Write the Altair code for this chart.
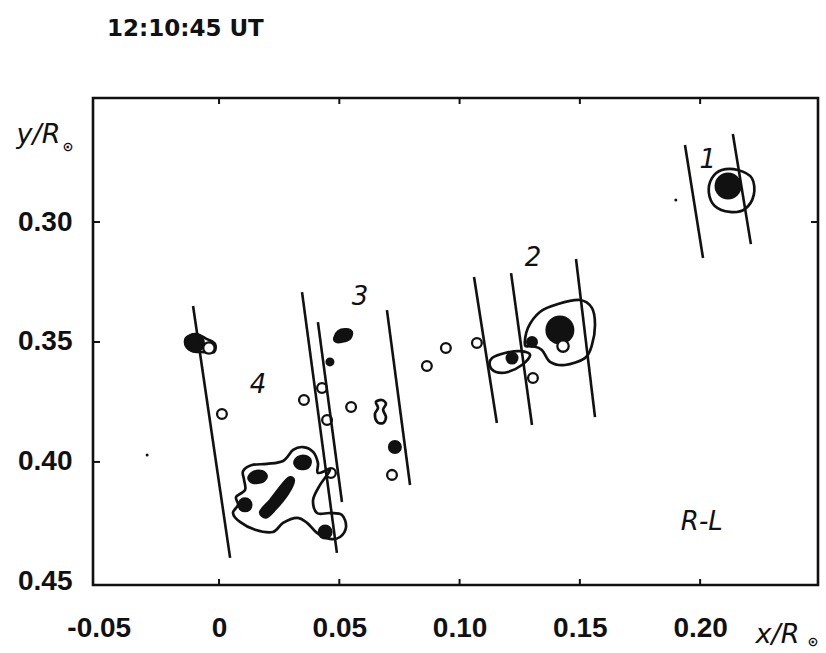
import altair as alt
import pandas as pd

# ---------------- data (in units of solar radius) ----------------
# slanted streak lines: start and end points
line_x1 = [0.1937, 0.2136, 0.1060, 0.1214, 0.1484, -0.0108, 0.0345, 0.0411, 0.0698]
line_y1 = [0.2679, 0.2633, 0.3229, 0.3213, 0.3154, 0.3350, 0.3292, 0.3417, 0.3367]
line_x2 = [0.2012, 0.2211, 0.1155, 0.1301, 0.1563, 0.0046, 0.0490, 0.0511, 0.0794]
line_y2 = [0.3150, 0.3092, 0.3838, 0.3846, 0.3813, 0.4400, 0.4379, 0.4167, 0.4096]

# contour outlines (closed)
c_g1_x = [0.2049, 0.2090, 0.2157, 0.2215, 0.2223, 0.2186, 0.2124, 0.2061, 0.2036]
c_g1_y = [0.2817, 0.2783, 0.2783, 0.2817, 0.2887, 0.2946, 0.2958, 0.2933, 0.2875]
c_g2_x = [0.1272, 0.1284, 0.1334, 0.1409, 0.1500, 0.1550, 0.1563, 0.1550, 0.1521, 0.1438, 0.1376, 0.1342, 0.1301]
c_g2_y = [0.3513, 0.3442, 0.3375, 0.3342, 0.3325, 0.3358, 0.3429, 0.3513, 0.3567, 0.3596, 0.3583, 0.3533, 0.3517]
c_g2b_x = [0.1126, 0.1135, 0.1189, 0.1251, 0.1293, 0.1259, 0.1201, 0.1151]
c_g2b_y = [0.3600, 0.3567, 0.3546, 0.3538, 0.3554, 0.3596, 0.3625, 0.3625]
c_left_x = [-0.0137, -0.0096, -0.0050, -0.0017, -0.0021, -0.0062, -0.0108, -0.0137]
c_left_y = [0.3483, 0.3467, 0.3488, 0.3508, 0.3542, 0.3542, 0.3538, 0.3517]
c_eight_x = [0.0652, 0.0677, 0.0694, 0.0682, 0.0694, 0.0682, 0.0657, 0.0648, 0.0661]
c_eight_y = [0.3750, 0.3742, 0.3758, 0.3783, 0.3813, 0.3838, 0.3833, 0.3800, 0.3775]
c_g4_x = [0.0349, 0.0391, 0.0411, 0.0411, 0.0461, 0.0420, 0.0391, 0.0407, 0.0461, 0.0511,
          0.0528, 0.0503, 0.0461, 0.0407, 0.0366, 0.0324, 0.0266, 0.0224, 0.0150, 0.0087,
          0.0058, 0.0079, 0.0071, 0.0108, 0.0104, 0.0100, 0.0137, 0.0199, 0.0266, 0.0308]
c_g4_y = [0.3938, 0.3958, 0.4004, 0.4046, 0.4033, 0.4096, 0.4158, 0.4213, 0.4213, 0.4221,
          0.4271, 0.4313, 0.4321, 0.4296, 0.4254, 0.4233, 0.4254, 0.4292, 0.4283, 0.4250,
          0.4213, 0.4179, 0.4146, 0.4117, 0.4075, 0.4038, 0.4013, 0.4008, 0.3996, 0.3950]

# filled (black) irregular sources
f_g3_x = [0.0478, 0.0495, 0.0528, 0.0553, 0.0544, 0.0511, 0.0486]
f_g3_y = [0.3483, 0.3454, 0.3446, 0.3458, 0.3488, 0.3500, 0.3500]
f_g4a_x = [0.0312, 0.0328, 0.0362, 0.0382, 0.0370, 0.0332]
f_g4a_y = [0.4004, 0.3979, 0.3975, 0.3996, 0.4025, 0.4029]
f_g4b_x = [0.0121, 0.0141, 0.0179, 0.0199, 0.0183, 0.0141]
f_g4b_y = [0.4067, 0.4042, 0.4038, 0.4058, 0.4083, 0.4088]
f_g4c_x = [0.0170, 0.0212, 0.0266, 0.0295, 0.0312, 0.0287, 0.0233, 0.0195]
f_g4c_y = [0.4208, 0.4158, 0.4088, 0.4063, 0.4079, 0.4133, 0.4200, 0.4233]

# compact filled sources: centre and size class
dot_x = [0.2116, 0.1417, -0.0100, 0.0731, 0.1301, 0.1218, 0.0441, 0.0108, 0.0461, -0.0299, 0.1899]
dot_y = [0.2850, 0.3450, 0.3504, 0.3938, 0.3500, 0.3567, 0.4292, 0.4179, 0.3583, 0.3971, 0.2908]
dot_cls = ["d27", "d29", "d20", "d14", "d12", "d13", "d15", "d15", "d9", "d3", "d3"]

# small hollow sources
ring_x = [0.0012, 0.0353, 0.0428, 0.0449, 0.0465, 0.0549, 0.0719, 0.0864, 0.0943, 0.1072, 0.1305]
ring_y = [0.3800, 0.3742, 0.3692, 0.3825, 0.4046, 0.3771, 0.4054, 0.3600, 0.3525, 0.3504, 0.3650]
# hollow sources drawn over black ones
wring_x = [0.1430, -0.0042]
wring_y = [0.3517, 0.3525]

# annotations
lab_text = ["1", "2", "3", "4", "R-L"]
lab_x = [0.2032, 0.1305, 0.0586, 0.0162, 0.2007]
lab_y = [0.2742, 0.3150, 0.3313, 0.3679, 0.4250]

x_ticks = [-0.05, 0.0, 0.05, 0.10, 0.15, 0.20]
y_ticks = [0.30, 0.35, 0.40, 0.45]
x_minor_frame = [0.0, 0.05, 0.10, 0.15, 0.20]
y_minor_frame = [0.30, 0.35, 0.40]

# ---------------- build tables ----------------
def poly_table(polys):
    rows = []
    for pid, (xs, ys) in polys.items():
        for i, (a, b) in enumerate(zip(xs, ys)):
            rows.append({"id": pid, "i": i, "x": a, "y": b})
    return pd.DataFrame(rows)

outlines = poly_table({
    "g1": (c_g1_x, c_g1_y), "g2": (c_g2_x, c_g2_y), "g2b": (c_g2b_x, c_g2b_y),
    "left": (c_left_x, c_left_y), "eight": (c_eight_x, c_eight_y), "g4": (c_g4_x, c_g4_y),
})
fills = poly_table({
    "g3": (f_g3_x, f_g3_y), "g4a": (f_g4a_x, f_g4a_y),
    "g4b": (f_g4b_x, f_g4b_y), "g4c": (f_g4c_x, f_g4c_y),
})
lines = pd.DataFrame({"x": line_x1, "y": line_y1, "x2": line_x2, "y2": line_y2})
dots = pd.DataFrame({"x": dot_x, "y": dot_y, "c": dot_cls})
rings = pd.DataFrame({"x": ring_x, "y": ring_y})
wrings = pd.DataFrame({"x": wring_x, "y": wring_y})
labs = pd.DataFrame({"t": lab_text, "x": lab_x, "y": lab_y})
xt = pd.DataFrame({"v": x_minor_frame})
yt = pd.DataFrame({"v": y_minor_frame})

W, H = 725, 487
INK = "#111111"
TICK_FONT = "Liberation Sans"

xscale = alt.Scale(domain=[-0.0524, 0.249], nice=False, zero=False)
yscale = alt.Scale(domain=[0.2483, 0.4513], nice=False, zero=False, reverse=True)

xaxis = alt.Axis(
    values=x_ticks, grid=False, domain=False, ticks=False,
    labelExpr="datum.value == 0 ? '0' : replace(format(datum.value, '.2f'), '\u2212', '-')",
    labelFont=TICK_FONT, labelFontSize=28, labelFontWeight="bold", labelColor=INK,
    labelPadding=29, labelFlush=False, labelOverlap=False,
    title="x/R", titleFont="DejaVu Sans", titleFontSize=27, titleFontStyle="italic",
    titleFontWeight="normal", titleColor=INK, titleAngle=0, titleX=684, titleY=49,
    titleAlign="center", titleBaseline="middle",
)
yaxis = alt.Axis(
    values=y_ticks, grid=False, domain=False, ticks=False, format=".2f",
    labelFont=TICK_FONT, labelFontSize=28, labelFontWeight="bold", labelColor=INK,
    labelPadding=21, labelFlush=False, labelOverlap=False,
    title="y/R", titleFont="DejaVu Sans", titleFontSize=27, titleFontStyle="italic",
    titleFontWeight="normal", titleColor=INK, titleAngle=0, titleX=-55, titleY=36,
    titleAlign="center", titleBaseline="middle",
)

X = alt.X("x:Q", scale=xscale, axis=xaxis)
Y = alt.Y("y:Q", scale=yscale, axis=yaxis)

outline_layer = alt.Chart(outlines).mark_line(
    interpolate="cardinal-closed", stroke=INK, strokeWidth=2.7
).encode(x=X, y=Y, detail="id:N", order="i:Q")

fill_layer = alt.Chart(fills).mark_line(
    interpolate="cardinal-closed", stroke=INK, fill=INK, strokeWidth=2
).encode(x=X, y=Y, detail="id:N", order="i:Q")

# one layer per size class of compact black sources
dot_sizes = {"d29": 841, "d27": 729, "d20": 400, "d15": 225, "d14": 196,
             "d13": 169, "d12": 144, "d9": 81, "d3": 9}
dot_layers = [
    alt.Chart(dots).transform_filter(alt.datum.c == cls).mark_point(
        filled=True, color=INK, opacity=1, shape="circle", size=sz
    ).encode(x=X, y=Y)
    for cls, sz in dot_sizes.items()
]

wring_layer = alt.Chart(wrings).mark_point(
    shape="circle", filled=False, fill="white", fillOpacity=1, stroke=INK,
    strokeWidth=2.3, size=130, opacity=1
).encode(x=X, y=Y)

ring_layer = alt.Chart(rings).mark_point(
    shape="circle", filled=False, stroke=INK, strokeWidth=2.3, size=95, opacity=1
).encode(x=X, y=Y)

line_layer = alt.Chart(lines).mark_rule(stroke=INK, strokeWidth=2.6).encode(
    x=X, y=Y, x2="x2:Q", y2="y2:Q")

text_layer = alt.Chart(labs).mark_text(
    font="DejaVu Sans", fontSize=26, fontStyle="italic", color=INK, align="center",
    baseline="middle"
).encode(x=X, y=Y, text="t:N")

# small solar-symbol subscripts of the axis titles
sun_y = alt.Chart(labs.iloc[:1]).mark_text(
    font="DejaVu Sans", fontSize=13, color=INK, fontWeight="bold"
).encode(x=alt.value(-25), y=alt.value(49), text=alt.value("\u2299"))
sun_x = alt.Chart(labs.iloc[:1]).mark_text(
    font="DejaVu Sans", fontSize=13, color=INK, fontWeight="bold"
).encode(x=alt.value(W - 5), y=alt.value(H + 57), text=alt.value("\u2299"))

tick_b = alt.Chart(xt).mark_rule(stroke=INK, strokeWidth=2).encode(
    x=alt.X("v:Q", scale=xscale, axis=xaxis), y=alt.value(H), y2=alt.value(H - 6))
tick_t = alt.Chart(xt).mark_rule(stroke=INK, strokeWidth=2).encode(
    x=alt.X("v:Q", scale=xscale, axis=xaxis), y=alt.value(0), y2=alt.value(6))
tick_l = alt.Chart(yt).mark_rule(stroke=INK, strokeWidth=2).encode(
    y=alt.Y("v:Q", scale=yscale, axis=yaxis), x=alt.value(0), x2=alt.value(7))
tick_r = alt.Chart(yt.iloc[:1]).mark_rule(stroke=INK, strokeWidth=2).encode(
    y=alt.Y("v:Q", scale=yscale, axis=yaxis), x=alt.value(W), x2=alt.value(W - 7))

chart = alt.layer(
    outline_layer, fill_layer, *dot_layers, wring_layer, ring_layer, line_layer,
    text_layer, sun_y, sun_x, tick_b, tick_t, tick_l, tick_r
).properties(
    width=W, height=H,
    autosize=alt.AutoSizeParams(type="none"),
    padding={"left": 93, "top": 98, "right": 8, "bottom": 68},
    background="white",
    title=alt.TitleParams(
        text="12:10:45 UT", anchor="start", frame="group", dx=14, offset=38,
        baseline="alphabetic", font="DejaVu Sans", fontSize=23, fontWeight="bold",
        color=INK,
    ),
).configure_view(
    stroke=INK, strokeWidth=2.6, fill="white"
)

chart.save("out.html", embed_options={"renderer": "svg", "actions": False})
